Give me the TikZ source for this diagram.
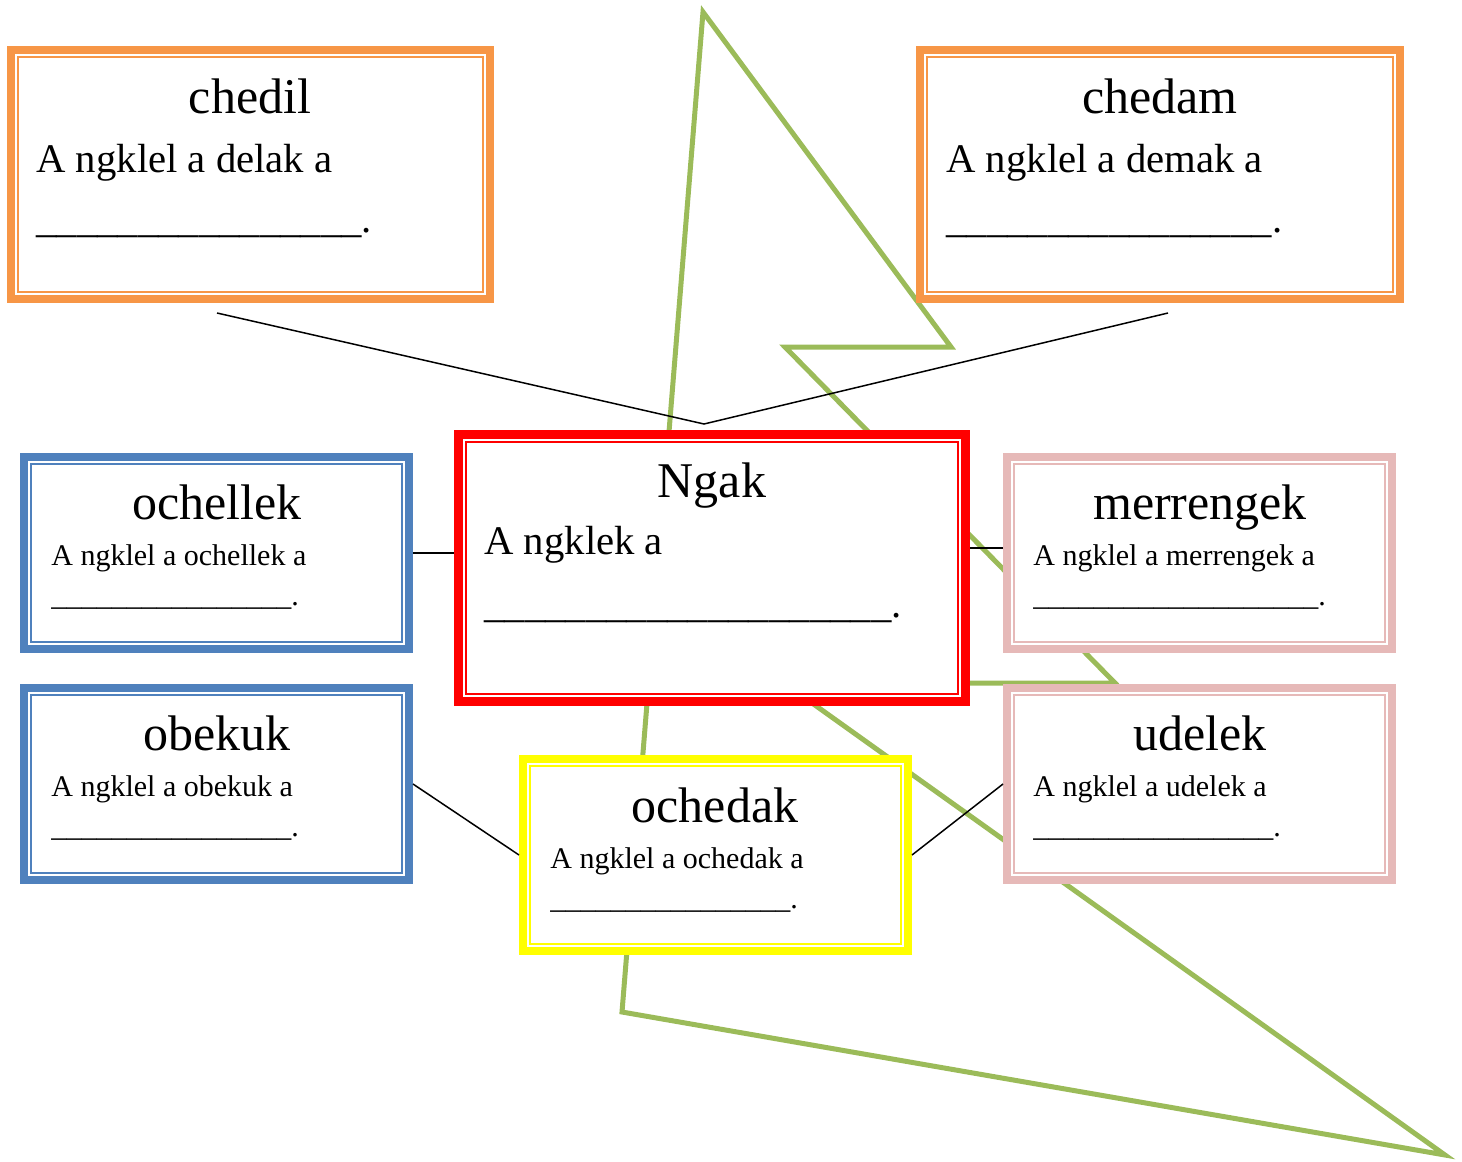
\documentclass[tikz,border=0pt]{standalone}
\usepackage{fontspec}
\setmainfont{Liberation Serif}
\usepackage{tikz}
\usetikzlibrary{calc}

\definecolor{cardorange}{HTML}{F79646}
\definecolor{cardred}{HTML}{FF0000}
\definecolor{cardblue}{HTML}{4F81BD}
\definecolor{cardyellow}{HTML}{FFFF00}
\definecolor{cardpink}{HTML}{E6B9B8}
\definecolor{zigzag}{HTML}{9BBB59}

% blank to fill in, #1 underscores and a full stop
\newcommand{\blank}[1]{\foreach \k in {1,...,#1}{\_}.}

\begin{document}
\begin{tikzpicture}[x=0.5pt,y=-0.5pt,
  card/.style={draw=#1, line width=4pt, fill=white, inner sep=0pt,
    minimum width=192.5pt, minimum height=96pt},
  title/.style={anchor=base, inner sep=0pt, font=\fontsize{25}{30}\selectfont},
  bigline/.style={anchor=base west, inner sep=0pt, font=\fontsize{20.35}{24}\selectfont},
  smallline/.style={anchor=base west, inner sep=0pt, font=\fontsize{15}{18}\selectfont},
  link/.style={black, line width=0.75pt}]

% --- Page frame (pixel grid, y downwards) ---
\useasboundingbox (0,0) rectangle (1462,1162);

% --- Green zig-zag outline behind the cards ---
\draw[zigzag, line width=2.5pt] (703,12) -- (951,347) -- (785,347) -- (1115,683)
  -- (784,683) -- (1445,1155) -- (622,1012) -- cycle;

% --- Cards: thick outer frame ---
\node[card=cardorange, minimum width=239.5pt, minimum height=124.5pt] (chedil) at (250.5,174.5) {};
\node[card=cardorange, minimum width=240pt, minimum height=124.5pt] (chedam) at (1160,174.5) {};
\node[card=cardred, line width=4.5pt, minimum width=253.5pt, minimum height=133.5pt] (Ngak) at (712,568) {};
\node[card=cardblue] (ochellek) at (216.5,553) {};
\node[card=cardblue] (obekuk) at (216.5,784) {};
\node[card=cardyellow] (ochedak) at (715.5,855) {};
\node[card=cardpink] (merrengek) at (1199.5,553) {};
\node[card=cardpink] (udelek) at (1199.5,784) {};

% thin inner frame
\foreach \n/\c in {chedil/cardorange, chedam/cardorange, ochellek/cardblue, obekuk/cardblue,
    ochedak/cardyellow, merrengek/cardpink, udelek/cardpink} {
  \draw[\c, line width=1pt] ([shift={(5.5pt,-5.5pt)}]\n.north west)
    rectangle ([shift={(-5.5pt,5.5pt)}]\n.south east);
}
\draw[cardred, line width=1pt] ([shift={(6pt,-6pt)}]Ngak.north west)
  rectangle ([shift={(-6pt,6pt)}]Ngak.south east);

% --- Texts ---
\node[title] (chedil-title) at (250,113) {chedil};
\node[bigline] (chedil-text) at (36,172) {A ngklel a delak a};
\node[bigline] (chedil-blank) at (36,232) {\blank{16}};

\node[title] (chedam-title) at (1160,113) {chedam};
\node[bigline] (chedam-text) at (946,172) {A ngklel a demak a};
\node[bigline] (chedam-blank) at (946,232) {\blank{16}};

\node[title] (Ngak-title) at (712,497) {Ngak};
\node[bigline] (Ngak-text) at (484,554) {A ngklek a};
\node[bigline] (Ngak-blank) at (484,617) {\blank{20}};

\node[title] (ochellek-title) at (217,519) {ochellek};
\node[smallline] (ochellek-text) at (51,565) {A ngklel a ochellek a};
\node[smallline] (ochellek-blank) at (51,605) {\blank{16}};

\node[title] (obekuk-title) at (217,750) {obekuk};
\node[smallline] (obekuk-text) at (51,796) {A ngklel a obekuk a};
\node[smallline] (obekuk-blank) at (51,836) {\blank{16}};

\node[title] (ochedak-title) at (715,822) {ochedak};
\node[smallline] (ochedak-text) at (550,868) {A ngklel a ochedak a};
\node[smallline] (ochedak-blank) at (550,908) {\blank{16}};

\node[title] (merrengek-title) at (1200,519) {merrengek};
\node[smallline] (merrengek-text) at (1033,565) {A ngklel a merrengek a};
\node[smallline] (merrengek-blank) at (1033,605) {\blank{19}};

\node[title] (udelek-title) at (1200,750) {udelek};
\node[smallline] (udelek-text) at (1033,796) {A ngklel a udelek a};
\node[smallline] (udelek-blank) at (1033,836) {\blank{16}};

% --- Connectors ---
\coordinate (apex) at (704,424);
\coordinate (chedil-foot) at (217,313);
\coordinate (chedam-foot) at (1168,313);
\draw[link] (chedil-foot) -- (apex) -- (chedam-foot);
\draw[link] (ochellek.east) -- (ochellek.east -| Ngak.west);
\draw[link] ([yshift=2.5pt]merrengek.west) -- ([yshift=2.5pt]merrengek.west -| Ngak.east);
\draw[link] (obekuk.east) -- (ochedak.west);
\draw[link] (ochedak.east) -- (udelek.west);

\end{tikzpicture}
\end{document}
